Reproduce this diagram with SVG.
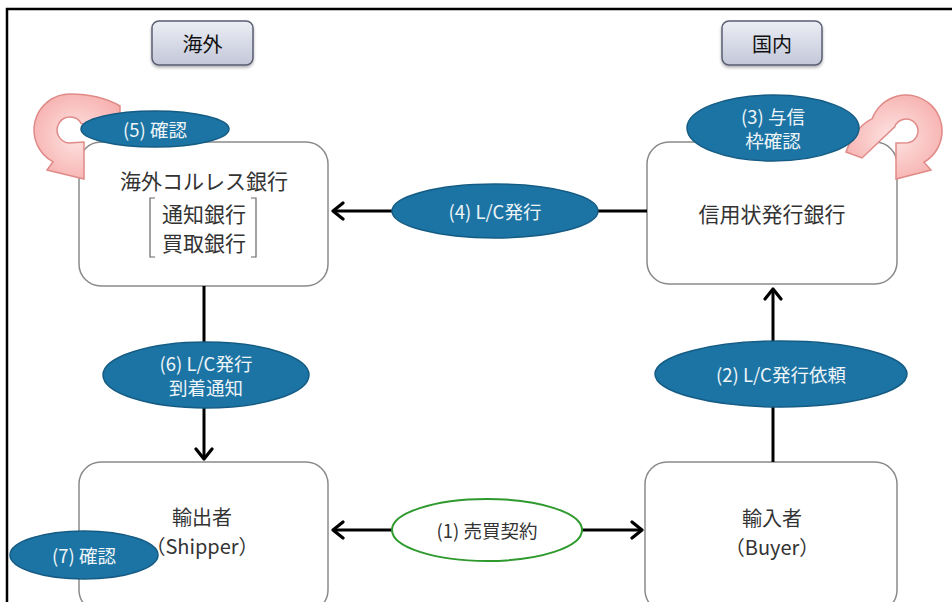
<svg xmlns="http://www.w3.org/2000/svg" width="952" height="602" viewBox="0 0 952 602">
  <defs>
    <linearGradient id="tagFill" x1="0" y1="0" x2="0" y2="1">
      <stop offset="0" stop-color="#eceef5"/>
      <stop offset="1" stop-color="#c3c7d8"/>
    </linearGradient>
    <radialGradient id="loopFill" cx="0.5" cy="0.5" r="0.6">
      <stop offset="0" stop-color="#fde4e3"/>
      <stop offset="1" stop-color="#f6aeac"/>
    </radialGradient>
    <marker id="chev" markerUnits="userSpaceOnUse" viewBox="0 0 14 20" markerWidth="14" markerHeight="20" refX="12" refY="10" orient="auto-start-reverse">
      <path d="M2,2 L12,10 L2,18" fill="none" stroke="#000" stroke-width="3.2" stroke-linecap="round" stroke-linejoin="round"/>
    </marker>
    <filter id="tagShadow" x="-20%" y="-20%" width="140%" height="150%">
      <feDropShadow dx="0" dy="2" stdDeviation="1.5" flood-color="#000" flood-opacity="0.3"/>
    </filter>
  </defs>
  <style>
    text { font-family: "Noto Sans CJK JP", "Noto Sans", sans-serif; text-anchor: middle; dominant-baseline: central; }
    .tag { fill: url(#tagFill); stroke: #5a5e72; stroke-width: 1.5; }
    .tagText { font-size: 20px; fill: #111; }
    .box { fill: #fff; stroke: #8a8a8a; stroke-width: 1.5; }
    .boxText { font-size: 21px; fill: #333; }
    .partyText { font-size: 20px; fill: #333; }
    .bubble { fill: #1c74a4; stroke: #155c84; stroke-width: 1.5; }
    .bubbleText { font-size: 18.5px; fill: #eef4f8; }
    .contract { fill: #fff; stroke: #2e9a2e; stroke-width: 2; }
    .contractText { font-size: 18.5px; fill: #333; }
    .link { stroke: #000; stroke-width: 3; fill: none; }
    .loop { fill: url(#loopFill); stroke: #e08a88; stroke-width: 1.5; }
    .bracket { fill: none; stroke: #666; stroke-width: 1.2; }
  </style>

  <rect width="952" height="602" fill="#fff"/>
  <!-- outer frame (top and left edges) -->
  <path d="M7,602 V9 H952" fill="none" stroke="#000" stroke-width="2.5"/>

  <!-- region tags -->
  <g id="tag-overseas">
    <rect class="tag" x="152" y="21" width="101" height="44" rx="7" filter="url(#tagShadow)"/>
    <text class="tagText" x="202.5" y="43">海外</text>
  </g>
  <g id="tag-domestic">
    <rect class="tag" x="722" y="21" width="100" height="44" rx="7" filter="url(#tagShadow)"/>
    <text class="tagText" x="772" y="43">国内</text>
  </g>

  <!-- parties -->
  <g id="node-correspondent-bank">
    <rect class="box" x="79" y="142" width="249" height="144" rx="22"/>
    <text class="boxText" x="204" y="180">海外コルレス銀行</text>
    <path class="bracket" d="M155,198 H150 V257 H155"/>
    <path class="bracket" d="M251,198 H256 V257 H251"/>
    <text class="boxText" x="204" y="213">通知銀行</text>
    <text class="boxText" x="204" y="242">買取銀行</text>
  </g>
  <g id="node-issuing-bank">
    <rect class="box" x="647" y="142" width="250" height="142" rx="22"/>
    <text class="boxText" x="772" y="213">信用状発行銀行</text>
  </g>
  <g id="node-exporter">
    <rect class="box" x="79" y="462" width="249" height="150" rx="22"/>
    <text class="partyText" x="202" y="516">輸出者</text>
    <text class="partyText" x="202" y="545">（Shipper）</text>
  </g>
  <g id="node-importer">
    <rect class="box" x="645" y="462" width="252" height="150" rx="22"/>
    <text class="partyText" x="772" y="517">輸入者</text>
    <text class="partyText" x="772" y="546">（Buyer）</text>
  </g>

  <!-- self-check loop arrows -->
  <g id="loop-correspondent">
    <path class="loop" d="M120,106 C108,99 92,94 70,94 A36,36 0 0 0 53.1,161.8 L47,170 L84,179 L84,142 L68.9,143 A13,13 0 1 1 81.3,123.5 L120,125 Z"/>
  </g>
  <g id="loop-issuing">
    <path class="loop" d="M846,152 C852,135 862,124 872.2,118.7 A36,36 0 1 1 924,162.2 L931,170 L896,179 L896,143 L908.1,142.8 A12,12 0 1 0 894.7,126.9 L862,158 Z"/>
  </g>

  <!-- connectors -->
  <g id="connectors">
    <line class="link" x1="487" y1="530" x2="333" y2="530" marker-end="url(#chev)"/>
    <line class="link" x1="487" y1="530" x2="642" y2="530" marker-end="url(#chev)"/>
    <line class="link" x1="773" y1="462" x2="773" y2="289" marker-end="url(#chev)"/>
    <line class="link" x1="647" y1="211" x2="333" y2="211" marker-end="url(#chev)"/>
    <line class="link" x1="204" y1="286" x2="204" y2="459" marker-end="url(#chev)"/>
  </g>

  <!-- step labels -->
  <g id="step1">
    <ellipse class="contract" cx="487" cy="530" rx="95" ry="31"/>
    <text class="contractText" x="487" y="530">(1) 売買契約</text>
  </g>
  <g id="step2">
    <ellipse class="bubble" cx="781" cy="374" rx="126" ry="33"/>
    <text class="bubbleText" x="781" y="374">(2) L/C発行依頼</text>
  </g>
  <g id="step3">
    <ellipse class="bubble" cx="773" cy="128" rx="86" ry="33"/>
    <text class="bubbleText" x="773" y="116">(3) 与信</text>
    <text class="bubbleText" x="773" y="140">枠確認</text>
  </g>
  <g id="step4">
    <ellipse class="bubble" cx="495" cy="211" rx="103" ry="27"/>
    <text class="bubbleText" x="495" y="211">(4) L/C発行</text>
  </g>
  <g id="step5">
    <ellipse class="bubble" cx="155" cy="129" rx="74" ry="18"/>
    <text class="bubbleText" x="155" y="129">(5) 確認</text>
  </g>
  <g id="step6">
    <ellipse class="bubble" cx="206" cy="375" rx="103" ry="33"/>
    <text class="bubbleText" x="206" y="363">(6) L/C発行</text>
    <text class="bubbleText" x="206" y="387">到着通知</text>
  </g>
  <g id="step7">
    <ellipse class="bubble" cx="84" cy="555" rx="74" ry="24"/>
    <text class="bubbleText" x="84" y="555">(7) 確認</text>
  </g>
</svg>
